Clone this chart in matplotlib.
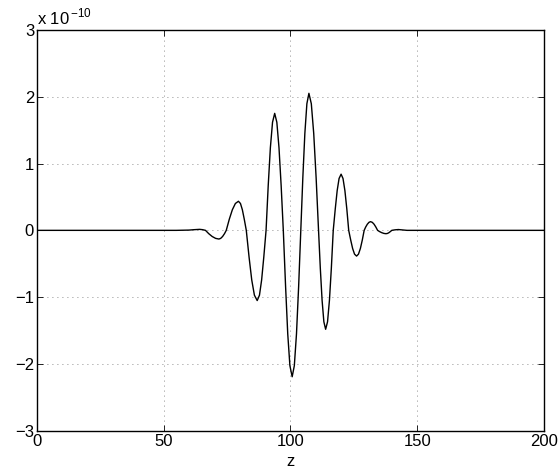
import matplotlib
matplotlib.use("Agg")
import matplotlib.pyplot as plt

# values, y in units of 1e-10
z = [0, 55, 60, 62, 64.2, 65.4, 66.5,
     67.8, 69.15, 70.5, 71.8, 72.5, 73.25, 74.0, 74.7,
     75.9, 77.1, 78.3, 79.5, 80.3, 81.05, 81.8, 82.6,
     83.7, 84.75, 85.8, 86.9, 87.8, 88.65, 89.5, 90.4,
     91.25, 92.1, 92.95, 93.8, 94.65, 95.5, 96.35, 97.2,
     98.1, 98.95, 99.8, 100.7, 101.55, 102.4, 103.25, 104.1,
     104.9, 105.7, 106.5, 107.3, 108.25, 109.2, 110.15, 111.1,
     111.8, 112.5, 113.2, 113.9, 114.65, 115.4, 116.15, 116.9,
     117.7, 118.45, 119.2, 120.0, 120.75, 121.5, 122.25, 123.0,
     123.8, 124.55, 125.3, 126.1, 126.85, 127.6, 128.35, 129.1,
     129.7, 130.35, 131.0, 131.6, 132.3, 133.0, 133.7, 134.4,
     135.2, 136.05, 136.9, 137.7, 138.3, 138.85, 139.4, 140.0,
     141.3, 142.6, 144.3, 146, 200]
v = [0, 0, 0.004, 0.01, 0.015, 0.01, 0,
     -0.05, -0.092, -0.12, -0.13, -0.12, -0.092, -0.05, 0,
     0.167, 0.308, 0.402, 0.435, 0.402, 0.308, 0.167, 0,
     -0.402, -0.742, -0.970, -1.05, -0.970, -0.742, -0.402, 0,
     0.670, 1.237, 1.617, 1.75, 1.617, 1.237, 0.670, 0,
     -0.839, -1.548, -2.024, -2.19, -2.024, -1.548, -0.839, 0,
     0.785, 1.449, 1.894, 2.05, 1.894, 1.449, 0.785, 0,
     -0.567, -1.046, -1.368, -1.48, -1.368, -1.046, -0.567, 0,
     0.322, 0.594, 0.776, 0.84, 0.776, 0.594, 0.322, 0,
     -0.147, -0.272, -0.356, -0.385, -0.356, -0.272, -0.147, 0,
     0.05, 0.092, 0.12, 0.13, 0.12, 0.092, 0.05, 0,
     -0.019, -0.035, -0.046, -0.05, -0.046, -0.035, -0.019, 0,
     0.008, 0.012, 0.006, 0, 0]

x_ticks = [0, 50, 100, 150, 200]
y_ticks = [-3, -2, -1, 0, 1, 2, 3]

plt.rcParams["font.family"] = ["Liberation Sans", "DejaVu Sans"]
plt.rcParams["mathtext.fontset"] = "custom"
plt.rcParams["mathtext.rm"] = "Liberation Sans"

fig = plt.figure(figsize=(5.59, 4.73), dpi=100)
ax = fig.add_axes([0.066, 0.089, 0.907, 0.848])

ax.plot(z, v, color="black", linewidth=1.0, solid_joinstyle="round")

ax.set_xlim(0, 200)
ax.set_ylim(-3, 3)
ax.set_xticks(x_ticks)
ax.set_yticks(y_ticks)
ax.set_yticklabels([str(t).replace("-", "\u2212") for t in y_ticks])
ax.tick_params(direction="in", top=True, right=True, length=4,
               width=0.6, labelsize=12, pad=2)
ax.grid(True, linestyle=(0, (1, 5)), color="black", linewidth=0.6, alpha=0.6)
for s in ax.spines.values():
    s.set_linewidth(1.0)

ax.set_xlabel("z", fontsize=12, labelpad=4)
ax.text(0.0, 1.006, r"x 10$^{\,\mathregular{-10}}$", transform=ax.transAxes,
        fontsize=12, ha="left", va="bottom")

fig.savefig("out.png", dpi=100)
